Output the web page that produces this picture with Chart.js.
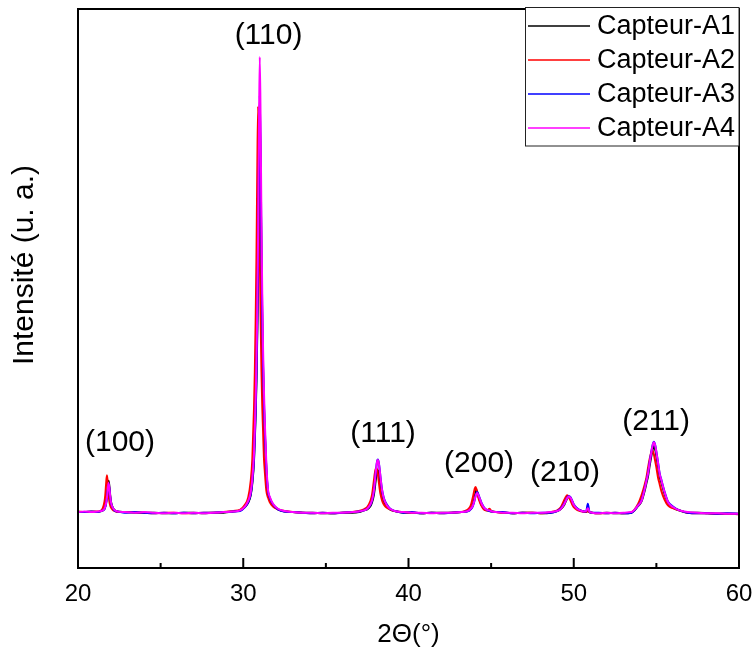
<!DOCTYPE html>
<html><head><meta charset="utf-8">
<script src="https://cdn.jsdelivr.net/npm/chart.js@4.4.1/dist/chart.umd.min.js"></script>
<style>html,body{margin:0;padding:0;background:#fff;}#wrap{width:755px;height:653px;}</style>
</head><body><div id="wrap"><canvas id="c" width="755" height="653"></canvas></div>
<script>
// 2θ grid (degrees)
const twoTheta = [20.0, 20.4, 20.8, 21.2,
 21.4, 21.5, 21.6, 21.65, 21.7, 21.75, 21.8, 21.85, 21.9, 21.95, 22.0, 22.1, 22.2, 22.4,
 22.8, 23.4, 24.0, 24.6, 25.2, 25.8, 26.4, 27.0, 27.6, 28.2, 28.8, 29.4, 29.8,
 30.1, 30.3, 30.45, 30.55, 30.65, 30.7, 30.75, 30.8, 30.85, 30.9, 30.95, 31.0, 31.05, 31.1, 31.15, 31.2, 31.25, 31.3, 31.4, 31.5, 31.6, 31.8, 32.1,
 32.5, 33.0, 33.6, 34.2, 34.8, 35.4, 36.0, 36.6, 37.0,
 37.3, 37.5, 37.7, 37.8, 37.9, 37.95, 38.0, 38.05, 38.1, 38.15, 38.2, 38.25, 38.3, 38.4, 38.5, 38.6, 38.8, 39.0, 39.3,
 39.7, 40.2, 40.8, 41.4, 42.0, 42.6, 43.2,
 43.5, 43.7, 43.8, 43.9, 44.0, 44.05, 44.1, 44.15, 44.2, 44.3, 44.4, 44.5, 44.6, 44.75, 44.9, 45.05, 45.3,
 45.7, 46.3, 46.9, 47.5, 48.1, 48.6,
 49.0, 49.2, 49.4, 49.5, 49.6, 49.7, 49.8, 49.9, 50.0, 50.2, 50.4, 50.6,
 50.75, 50.85, 50.95, 51.1,
 51.5, 52.0, 52.5, 53.0, 53.5,
 53.9, 54.1, 54.3, 54.4, 54.5, 54.6, 54.7, 54.75, 54.8, 54.85, 54.9, 54.95, 55.0, 55.1, 55.2, 55.3, 55.5, 55.7, 56.0, 56.4,
 56.9, 57.5, 58.1, 58.7, 59.3, 60.0];

// Intensities (u. a.)
const capteurA1 = [100, 100, 100, 100,
 102, 103, 106, 110, 118, 128, 145, 156, 146, 130, 118, 108, 104, 101,
 100, 99, 99, 99, 98, 98, 99, 99, 98, 99, 99, 101, 103,
 109, 117, 130, 152, 191, 231, 274, 335, 422, 535, 692, 810, 709, 552, 439, 352, 291, 243, 174, 135, 124, 113, 105,
 101, 100, 99, 99, 98, 98, 99, 99, 100,
 103, 105, 111, 118, 130, 140, 153, 165, 173, 175, 171, 162, 151, 132, 120, 114, 107, 103, 101,
 99, 99, 98, 99, 99, 99, 100,
 101, 104, 107, 114, 126, 134, 140, 137, 132, 122, 114, 109, 105, 103, 102, 101, 100,
 99, 98, 99, 99, 98, 99,
 102, 105, 112, 118, 124, 127, 125, 119, 112, 106, 103, 101,
 100, 104, 100, 99,
 98, 99, 98, 98, 99,
 111, 119, 139, 152, 165, 184, 201, 209, 215, 218, 215, 209, 200, 182, 163, 153, 132, 117, 108, 103,
 99, 99, 98, 97, 97, 97];

const capteurA2 = [101, 100, 101, 101,
 103, 107, 118, 130, 150, 166, 152, 132, 119, 112, 108, 104, 102, 100,
 100, 100, 99, 98, 99, 99, 98, 98, 99, 99, 100, 102, 104,
 113, 126, 155, 195, 285, 350, 440, 555, 710, 826, 720, 565, 450, 355, 290, 245, 198, 175, 138, 126, 118, 110, 105,
 102, 100, 99, 98, 99, 98, 99, 100, 102,
 105, 109, 120, 132, 155, 167, 176, 179, 176, 167, 155, 143, 133, 121, 114, 110, 106, 103, 101,
 100, 99, 98, 99, 98, 99, 100,
 103, 108, 115, 127, 141, 145, 142, 136, 129, 119, 112, 107, 104, 103, 106, 101, 100,
 99, 98, 99, 99, 98, 100,
 103, 108, 120, 126, 130, 127, 121, 114, 109, 104, 102, 100,
 100, 102, 100, 99,
 98, 98, 99, 98, 100,
 115, 130, 150, 162, 180, 196, 208, 211, 208, 203, 196, 188, 180, 162, 150, 138, 122, 112, 107, 103,
 99, 98, 98, 97, 97, 96];

const capteurA3 = [100, 100, 101, 100,
 102, 103, 105, 109, 115, 124, 138, 150, 142, 127, 116, 108, 103, 101,
 99, 100, 99, 98, 99, 98, 99, 98, 99, 99, 100, 101, 102,
 109, 118, 132, 155, 196, 237, 283, 347, 439, 558, 722, 845, 741, 576, 457, 365, 301, 251, 178, 137, 126, 114, 105,
 101, 100, 99, 98, 99, 98, 99, 100, 101,
 103, 106, 113, 121, 136, 149, 165, 180, 191, 194, 189, 178, 164, 140, 126, 118, 109, 104, 101,
 99, 100, 98, 99, 98, 99, 100,
 101, 103, 106, 111, 121, 128, 133, 136, 134, 126, 118, 112, 107, 104, 102, 101, 100,
 100, 98, 99, 98, 99, 99,
 102, 106, 114, 120, 126, 129, 127, 121, 114, 107, 103, 101,
 101, 115, 101, 99,
 99, 98, 99, 98, 99,
 112, 121, 143, 157, 171, 191, 209, 217, 223, 226, 223, 217, 208, 189, 169, 158, 136, 119, 110, 103,
 99, 98, 98, 97, 98, 97];

const capteurA4 = [100, 101, 100, 101,
 102, 103, 106, 110, 116, 126, 140, 152, 143, 128, 117, 108, 104, 101,
 100, 99, 100, 99, 98, 99, 98, 99, 98, 99, 100, 101, 103,
 110, 120, 135, 160, 205, 250, 300, 370, 470, 600, 780, 914, 800, 620, 490, 390, 320, 265, 185, 140, 128, 115, 106,
 102, 100, 99, 99, 98, 99, 99, 100, 101,
 103, 106, 114, 122, 137, 150, 166, 180, 190, 193, 188, 177, 163, 139, 125, 117, 108, 104, 101,
 100, 99, 99, 98, 99, 99, 100,
 101, 104, 107, 112, 122, 128, 132, 134, 132, 125, 117, 111, 107, 104, 103, 101, 100,
 99, 99, 98, 99, 99, 100,
 102, 105, 113, 119, 125, 128, 126, 120, 113, 106, 103, 101,
 102, 107, 101, 99,
 98, 99, 98, 99, 100,
 112, 120, 142, 156, 170, 190, 208, 216, 222, 225, 222, 216, 207, 188, 168, 157, 135, 118, 109, 103,
 100, 99, 98, 98, 97, 97];

const seriesNames = ['Capteur-A1', 'Capteur-A2', 'Capteur-A3', 'Capteur-A4'];
const majorTicks = [20, 30, 40, 50, 60];
const minorTicks = [25, 35, 45, 55];
const peakLabels = ['(100)', '(110)', '(111)', '(200)', '(210)', '(211)'];
const peakLabel2Theta = [22.54, 31.53, 38.46, 44.27, 49.47, 54.98];
const peakLabelIntensity = [224, 953, 241, 186, 170, 261];
const yTitle = 'Intensité (u. a.)';
const xTitle = '2Θ(°)';

const FONT = '"Liberation Sans", Arial, sans-serif';
const colors = ['#000000', '#ff0000', '#0000ff', '#ff00ff'];
const seriesData = [capteurA1, capteurA2, capteurA3, capteurA4];

const datasets = seriesData.map((arr, k) => ({
  label: seriesNames[k],
  data: twoTheta.map((t, i) => ({x: t, y: arr[i]})),
  borderColor: colors[k],
  backgroundColor: colors[k],
  borderWidth: 2,
  pointRadius: 0,
  fill: false,
  cubicInterpolationMode: 'monotone',
  order: 3 - k
}));

const framePlugin = {
  id: 'frame',
  afterDatasetsDraw(chart) {
    const {ctx, chartArea: a, scales: {x, y}} = chart;
    ctx.save();
    ctx.strokeStyle = '#000';
    ctx.lineWidth = 2;
    ctx.strokeRect(a.left, a.top, a.right - a.left, a.bottom - a.top);
    ctx.beginPath();
    majorTicks.forEach(v => { const p = x.getPixelForValue(v); ctx.moveTo(p, a.bottom); ctx.lineTo(p, a.bottom - 10); });
    minorTicks.forEach(v => { const p = x.getPixelForValue(v); ctx.moveTo(p, a.bottom); ctx.lineTo(p, a.bottom - 5); });
    ctx.stroke();
    // peak labels
    ctx.fillStyle = '#000';
    ctx.font = '30px ' + FONT;
    ctx.textAlign = 'center';
    ctx.textBaseline = 'middle';
    peakLabels.forEach((t, i) => ctx.fillText(t, x.getPixelForValue(peakLabel2Theta[i]), y.getPixelForValue(peakLabelIntensity[i])));
    // y axis title
    ctx.save();
    ctx.translate(25, 265);
    ctx.rotate(-Math.PI / 2);
    ctx.font = '30px ' + FONT;
    ctx.fillText(yTitle, 0, 0);
    ctx.restore();
    // legend
    const lx = 525.5, ly = 7.5, lw = 213.5, lh = 138.5;
    ctx.fillStyle = '#fff';
    ctx.fillRect(lx, ly, lw, lh);
    ctx.strokeStyle = '#222';
    ctx.lineWidth = 1;
    ctx.strokeRect(lx, ly, lw, lh);
    ctx.font = '27px ' + FONT;
    ctx.textAlign = 'left';
    ctx.textBaseline = 'middle';
    seriesNames.forEach((n, i) => {
      const ry = 26 + i * 34;
      ctx.strokeStyle = colors[i];
      ctx.lineWidth = 1.5;
      ctx.beginPath(); ctx.moveTo(528, ry); ctx.lineTo(590, ry); ctx.stroke();
      ctx.fillStyle = '#000';
      ctx.fillText(n, 597, ry + 1);
    });
    ctx.restore();
  }
};

new Chart(document.getElementById('c'), {
  type: 'line',
  data: {datasets},
  options: {
    responsive: false,
    animation: false,
    devicePixelRatio: 1,
    layout: {padding: {top: 9, right: 16, left: 0, bottom: 0}},
    plugins: {legend: {display: false}, tooltip: {enabled: false}},
    scales: {
      x: {
        type: 'linear', min: 20, max: 60,
        afterBuildTicks(s) { s.ticks = majorTicks.map(v => ({value: v})); },
        ticks: {font: {size: 24, family: FONT}, color: '#000', padding: 12, maxRotation: 0},
        grid: {display: false, drawTicks: false},
        border: {display: false},
        title: {display: true, text: xTitle, font: {size: 26, family: FONT}, color: '#000', padding: {top: 0, bottom: 3}},
        afterFit(s) { s.height = 85; s.paddingLeft = 0; s.paddingRight = 0; }
      },
      y: {
        type: 'linear', min: 0, max: 1000,
        ticks: {display: false},
        grid: {display: false, drawTicks: false},
        border: {display: false},
        title: {display: false},
        afterFit(s) { s.width = 78; s.paddingTop = 0; s.paddingBottom = 0; }
      }
    }
  },
  plugins: [framePlugin]
});
</script>
</body></html>
